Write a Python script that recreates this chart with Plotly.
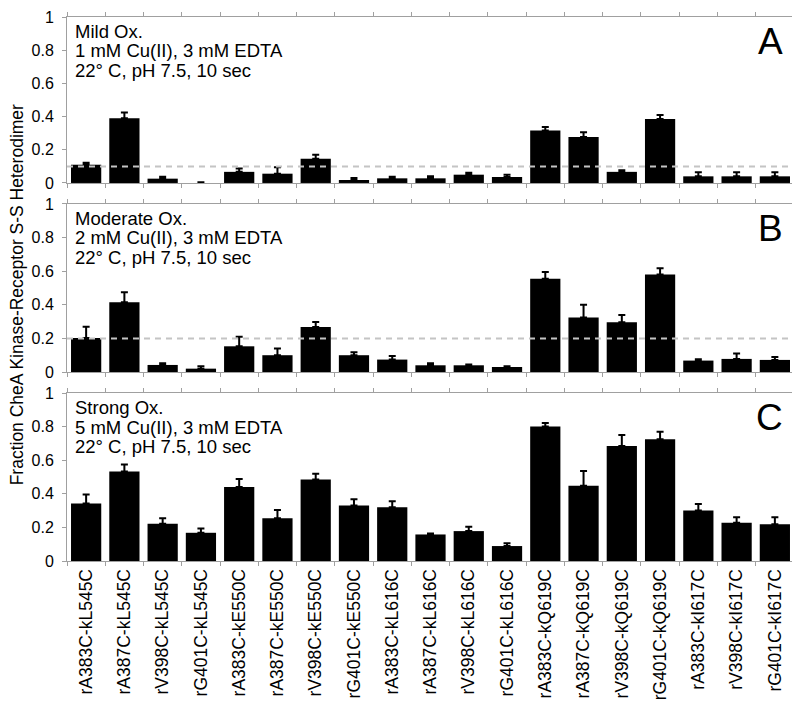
import plotly.graph_objects as go
from plotly.subplots import make_subplots

categories = ["rA383C-kL545C", "rA387C-kL545C", "rV398C-kL545C", "rG401C-kL545C",
              "rA383C-kE550C", "rA387C-kE550C", "rV398C-kE550C", "rG401C-kE550C",
              "rA383C-kL616C", "rA387C-kL616C", "rV398C-kL616C", "rG401C-kL616C",
              "rA383C-kQ619C", "rA387C-kQ619C", "rV398C-kQ619C", "rG401C-kQ619C",
              "rA383C-kI617C", "rV398C-kI617C", "rG401C-kI617C"]

mild_vals = [0.11, 0.39, 0.026, 0.0, 0.067, 0.056, 0.146, 0.018, 0.028, 0.028,
             0.05, 0.036, 0.316, 0.277, 0.067, 0.385, 0.04, 0.04, 0.04]
mild_err = [0.012, 0.035, 0.012, 0.005, 0.02, 0.039, 0.024, 0.012, 0.01, 0.012,
            0.012, 0.014, 0.022, 0.028, 0.01, 0.025, 0.025, 0.025, 0.025]

moderate_vals = [0.203, 0.415, 0.042, 0.02, 0.153, 0.10, 0.268, 0.10, 0.074, 0.04,
                 0.04, 0.03, 0.555, 0.324, 0.296, 0.58, 0.068, 0.078, 0.072]
moderate_err = [0.067, 0.06, 0.01, 0.014, 0.057, 0.04, 0.029, 0.017, 0.021, 0.012,
                0.004, 0.004, 0.04, 0.076, 0.044, 0.037, 0.008, 0.032, 0.018]

strong_vals = [0.343, 0.533, 0.221, 0.168, 0.44, 0.254, 0.485, 0.33, 0.32, 0.158,
               0.178, 0.089, 0.80, 0.448, 0.685, 0.724, 0.30, 0.227, 0.219]
strong_err = [0.053, 0.041, 0.033, 0.025, 0.048, 0.05, 0.035, 0.037, 0.035, 0.006,
              0.026, 0.016, 0.022, 0.087, 0.065, 0.045, 0.04, 0.033, 0.041]

panel_lines = [["Mild Ox.", "1 mM Cu(II), 3 mM EDTA", "22° C, pH 7.5, 10 sec"],
               ["Moderate Ox.", "2 mM Cu(II), 3 mM EDTA", "22° C, pH 7.5, 10 sec"],
               ["Strong Ox.", "5 mM Cu(II), 3 mM EDTA", "22° C, pH 7.5, 10 sec"]]
panel_letters = ["A", "B", "C"]
reference_lines = [0.1, 0.2, None]

y_ticks = [0, 0.2, 0.4, 0.6, 0.8, 1]
y_ticklabels = ["0", "0.2", "0.4", "0.6", "0.8", "1"]

FONT = "Liberation Sans, Arial, Helvetica, sans-serif"
FRAME = "#a0a0a0"

fig = make_subplots(rows=3, cols=1, shared_xaxes=True, vertical_spacing=0.04)

series = [(mild_vals, mild_err), (moderate_vals, moderate_err), (strong_vals, strong_err)]
for i, (vals, errs) in enumerate(series):
    fig.add_trace(go.Bar(
        x=categories, y=vals,
        marker=dict(color="black", line=dict(width=0)),
        error_y=dict(type="data", array=errs, arrayminus=[0] * len(errs), symmetric=False,
                     color="black", thickness=2, width=3.5),
        showlegend=False,
    ), row=i + 1, col=1)

domains = [[0.6949, 1.0], [0.3474, 0.6563], [0.0, 0.3088]]
line_offsets = [0.99, 0.872, 0.754]
for i in range(3):
    ax = "" if i == 0 else str(i + 1)
    fig.update_layout(**{
        f"yaxis{ax}": dict(
            domain=domains[i], range=[0, 1], tickvals=y_ticks, ticktext=y_ticklabels,
            showgrid=False, zeroline=False, showline=True, linecolor=FRAME, linewidth=1,
            mirror="ticks", ticks="outside", ticklen=4, tickcolor=FRAME, automargin=False,
            ticklabeloverflow="allow",
            tickfont=dict(family=FONT, size=16, color="black"), ticklabelstandoff=5,
        ),
        f"xaxis{ax}": dict(
            type="category", showgrid=False, zeroline=False, showline=True, linecolor=FRAME,
            linewidth=1, mirror="ticks", ticks="outside", ticklen=4, tickcolor=FRAME,
            tickson="boundaries", range=[-0.5, len(categories) - 0.5], automargin=False,
            tickangle=-90, tickfont=dict(family=FONT, size=17.5, color="black"),
            showticklabels=(i == 2),
        ),
    })
    yref = f"y{ax}"
    xdom = f"x{ax} domain"
    ydom = f"y{ax} domain"
    for j, txt in enumerate(panel_lines[i]):
        fig.add_annotation(text=txt, xref=xdom, yref=ydom, x=0.008, y=line_offsets[j],
                           xanchor="left", yanchor="top", align="left", showarrow=False,
                           font=dict(family=FONT, size=18.5, color="black"))
    fig.add_annotation(text=panel_letters[i], xref=xdom, yref=ydom, x=0.988, y=0.99,
                       xanchor="right", yanchor="top", showarrow=False,
                       font=dict(family=FONT, size=37, color="black"))
    if reference_lines[i] is not None:
        fig.add_shape(type="line", xref=xdom, yref=yref, x0=0, x1=1,
                      y0=reference_lines[i], y1=reference_lines[i], layer="above",
                      line=dict(color="#c4c4c4", width=2, dash="6px,5px"))

fig.add_annotation(text="Fraction CheA Kinase-Receptor S-S Heterodimer", xref="paper", yref="paper",
                   x=-0.0675, y=0.49, textangle=-90, showarrow=False,
                   xanchor="center", yanchor="middle",
                   font=dict(family=FONT, size=17.5, color="black"))

# The page body adds an 8px offset, so the figure is sized/margined to compensate.
fig.update_layout(
    width=792, height=698,
    margin=dict(l=59, r=6, t=9, b=145, autoexpand=False),
    plot_bgcolor="white", paper_bgcolor="white",
    bargap=0.21,
    font=dict(family=FONT, color="black"),
)

fig.write_html("out.html")
